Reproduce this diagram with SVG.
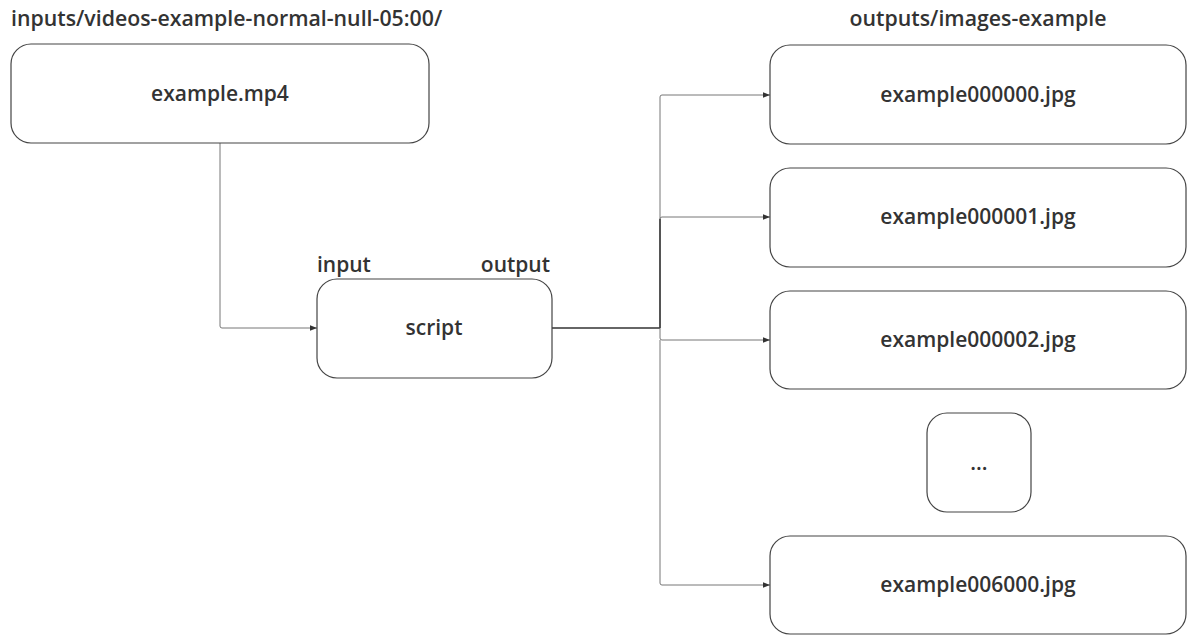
<svg xmlns="http://www.w3.org/2000/svg" width="1187" height="635" viewBox="0 0 1187 635">
  <style>
    .box { fill: #ffffff; stroke: #444444; stroke-width: 1.2; }
    .lbl { font-family: "Open Sans", "Noto Sans", sans-serif; font-weight: 600; font-size: 21px; fill: #333333; }
    .cap { font-size: 21.3px; }
    .mid { text-anchor: middle; dominant-baseline: central; }
    .wire { fill: none; stroke: #777777; stroke-width: 1; }
    .bus { fill: none; stroke: #333333; stroke-width: 1.5; }
  </style>
  <defs>
    <marker id="arrow" viewBox="0 0 10 10" refX="10" refY="5" markerWidth="7" markerHeight="7" markerUnits="userSpaceOnUse" orient="auto">
      <path d="M0,1 L10,5 L0,9 z" fill="#333333"/>
    </marker>
  </defs>

  <rect width="1187" height="635" fill="#ffffff"/>

  <!-- folder captions -->
  <text class="lbl cap" x="11" y="26">inputs/videos-example-normal-null-05:00/</text>
  <text class="lbl cap" x="978" y="26" text-anchor="middle">outputs/images-example</text>

  <g id="connectors">
    <!-- video into script -->
    <path class="wire" d="M220,143 V326 Q220,328 222,328 H317" marker-end="url(#arrow)"/>
    <!-- script output to trunk -->
    <path class="bus" d="M552,328 H660"/>
    <path class="wire" d="M660,328 V97 Q660,95 662,95 H770" marker-end="url(#arrow)"/>
    <path class="bus" d="M660,328 V219"/>
    <path class="wire" d="M660,219 Q660,217 662,217 H770" marker-end="url(#arrow)"/>
    <path class="wire" d="M660,328 V338 Q660,340 662,340 H770" marker-end="url(#arrow)"/>
    <path class="wire" d="M660,340 V583 Q660,585 662,585 H770" marker-end="url(#arrow)"/>
  </g>

  <g id="node-video">
    <rect class="box" x="11" y="44" width="418" height="99" rx="20"/>
    <text class="lbl mid" x="220" y="93">example.mp4</text>
  </g>

  <g id="node-script">
    <rect class="box" x="317" y="279" width="235" height="99" rx="20"/>
    <text class="lbl mid" x="434" y="327">script</text>
    <text class="lbl" x="317" y="272">input</text>
    <text class="lbl" x="550" y="272" text-anchor="end">output</text>
  </g>

  <g id="node-frame-0">
    <rect class="box" x="770" y="45" width="416" height="99" rx="20"/>
    <text class="lbl mid" x="978" y="94">example000000.jpg</text>
  </g>

  <g id="node-frame-1">
    <rect class="box" x="770" y="168" width="416" height="99" rx="20"/>
    <text class="lbl mid" x="978" y="216">example000001.jpg</text>
  </g>

  <g id="node-frame-2">
    <rect class="box" x="770" y="291" width="416" height="98" rx="20"/>
    <text class="lbl mid" x="978" y="339">example000002.jpg</text>
  </g>

  <g id="node-ellipsis">
    <rect class="box" x="927" y="413" width="104" height="99" rx="20"/>
    <text class="lbl mid" x="979" y="462">...</text>
  </g>

  <g id="node-frame-6000">
    <rect class="box" x="770" y="536" width="416" height="98" rx="20"/>
    <text class="lbl mid" x="978" y="584">example006000.jpg</text>
  </g>
</svg>
